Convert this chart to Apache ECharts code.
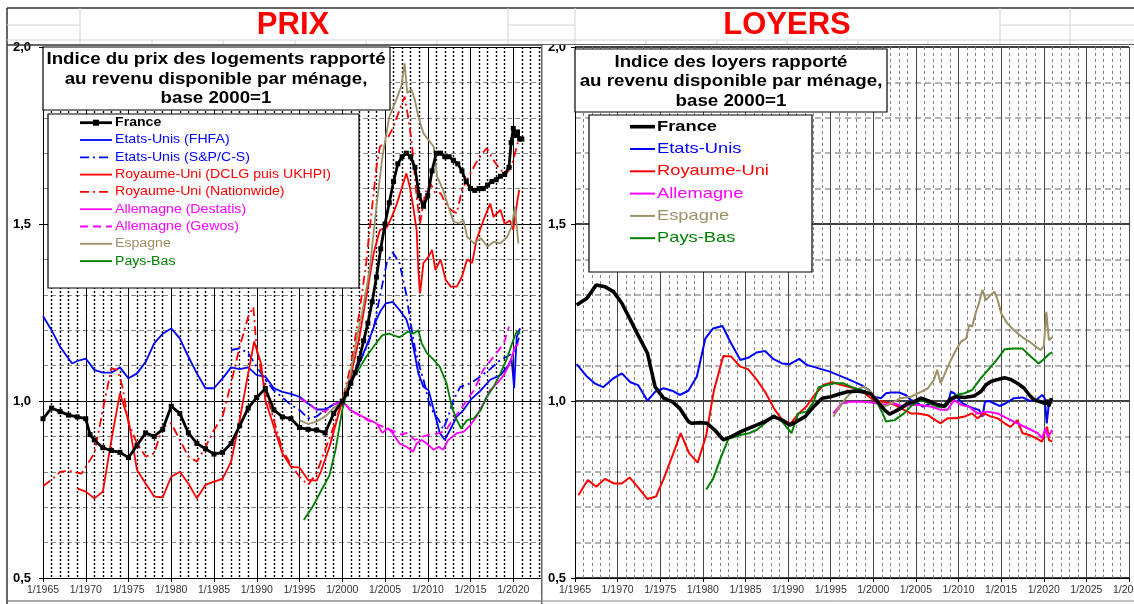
<!DOCTYPE html>
<html>
<head>
<meta charset="utf-8">
<title>Prix et loyers rapportés au revenu disponible par ménage</title>
<script src="https://cdn.jsdelivr.net/npm/echarts/dist/echarts.min.js"></script>
<style>
  html, body { margin: 0; padding: 0; background: #fff; }
  #page { position: relative; width: 1134px; height: 604px; overflow: hidden; background: #fff; }
  #prix { position: absolute; left: 0; top: 0; width: 1134px; height: 604px; }
  #loyers { position: absolute; left: 541px; top: 45px; width: 593px; height: 559px; background: #fff; }
</style>
</head>
<body>
<div id="page">
  <div id="prix"></div>
  <div id="loyers"></div>
</div>
<script>
// ===== PRIX : indice du prix des logements rapporté au revenu disponible par ménage, base 2000=1
const prixFrance = [
  [1965,0.95],[1966,0.98],[1967,0.97],[1968,0.96],[1969,0.955],[1970,0.95],[1970.5,0.905],[1971,0.89],
  [1972,0.868],[1973,0.86],[1974,0.855],[1975,0.84],[1976,0.875],[1977,0.91],[1978,0.90],[1979,0.92],
  [1980,0.985],[1981,0.965],[1982,0.91],[1983,0.88],[1984,0.865],[1985,0.85],[1986,0.855],[1987,0.88],
  [1988,0.93],[1989,0.98],[1990,1.01],[1991,1.035],[1992,0.975],[1993,0.955],[1994,0.95],[1995,0.925],
  [1996,0.92],[1997,0.918],[1998,0.91],[1999,0.965],[2000,1.0],[2000.5,1.02],[2001,1.05],[2001.5,1.08],
  [2002,1.12],[2002.5,1.17],[2003,1.22],[2003.5,1.28],[2004,1.35],[2004.5,1.43],[2005,1.50],[2005.5,1.56],
  [2006,1.62],[2006.5,1.67],[2007,1.69],[2007.5,1.70],[2008,1.69],[2008.5,1.66],[2009,1.58],[2009.5,1.55],
  [2010,1.58],[2010.5,1.65],[2011,1.70],[2011.5,1.70],[2012,1.69],[2012.5,1.69],[2013,1.68],[2013.5,1.67],
  [2014,1.65],[2014.5,1.62],[2015,1.60],[2015.5,1.595],[2016,1.60],[2016.5,1.60],[2017,1.61],[2017.5,1.62],
  [2018,1.625],[2018.5,1.635],[2019,1.64],[2019.5,1.66],[2019.75,1.73],[2020,1.77],[2020.25,1.75],
  [2020.5,1.76],[2020.75,1.74],[2021,1.74]
];
const prixUSFHFA = [
  [1965,1.24],[1966,1.20],[1967,1.153],[1968.4,1.106],[1969,1.113],[1970,1.12],[1971,1.088],[1972,1.08],
  [1973,1.08],[1974,1.095],[1975,1.064],[1976,1.078],[1977,1.11],[1978,1.163],[1979,1.19],[1980,1.205],
  [1981,1.177],[1982,1.125],[1983,1.078],[1984,1.036],[1985,1.036],[1986,1.064],[1987,1.095],[1988,1.09],
  [1989,1.095],[1990,1.073],[1991,1.069],[1992,1.036],[1993,1.026],[1994,1.02],[1995,1.012],[1996,0.993],
  [1997,0.976],[1998,0.976],[1999,0.99],[2000,1.0],[2000.5,1.03],[2001,1.06],[2001.6,1.083],[2002.2,1.12],
  [2002.8,1.153],[2003.4,1.19],[2004,1.23],[2004.5,1.255],[2005.1,1.276],[2005.9,1.28],[2006.7,1.257],
  [2007.5,1.23],[2008,1.19],[2008.5,1.13],[2008.9,1.078],[2009.5,1.04],[2010.1,1.03],[2010.7,0.975],
  [2011.4,0.91],[2012,0.89],[2012.6,0.918],[2013.4,0.956],[2014.2,0.975],[2015,1.003],[2016.2,1.03],
  [2017.3,1.06],[2018.5,1.073],[2019.4,1.10],[2019.8,1.12],[2020.1,1.036],[2020.4,1.18],[2020.8,1.205]
];
const prixUSCaseShiller = [
  [1987,1.144],[1988,1.149],[1989,1.135],[1990,1.097],[1991,1.06],[1992,1.03],[1993,1.01],[1994,0.989],
  [1995,0.975],[1996,0.951],[1997,0.956],[1998,0.975],[1999,0.99],[2000,1.0],[2001,1.05],[2002,1.107],
  [2003,1.16],[2003.7,1.21],[2004.4,1.295],[2005.2,1.39],[2005.9,1.42],[2006.7,1.39],[2007.5,1.30],
  [2008,1.22],[2008.5,1.15],[2009,1.10],[2009.5,1.06],[2010.1,1.0],[2010.7,0.965],[2011.3,0.946],
  [2011.8,0.92],[2012.4,0.956],[2013,1.003],[2013.8,1.04],[2015,1.05],[2016.2,1.07],[2017.3,1.09],
  [2018.5,1.116],[2019.6,1.13],[2020.2,1.14],[2020.8,1.19]
];
const prixUKDclg = [
  [1969,0.753],[1970,0.744],[1971,0.725],[1972,0.744],[1973,0.89],[1974,1.022],[1975,0.946],[1976,0.805],
  [1977,0.767],[1978,0.73],[1979,0.728],[1980,0.786],[1981,0.80],[1982,0.767],[1983,0.725],[1984,0.763],
  [1985,0.772],[1986,0.78],[1987,0.829],[1988,0.946],[1989,1.078],[1989.7,1.168],[1990.5,1.106],[1991,1.003],
  [1992,0.927],[1993,0.852],[1994,0.814],[1995,0.812],[1996,0.777],[1997,0.775],[1997.5,0.80],[1998.5,0.87],
  [1999.3,0.94],[2000,1.0],[2001,1.07],[2002,1.18],[2003,1.32],[2003.7,1.42],[2004.4,1.483],[2005.2,1.49],
  [2005.8,1.52],[2006.4,1.558],[2007,1.605],[2007.5,1.643],[2007.9,1.605],[2008.3,1.548],[2008.7,1.483],
  [2008.9,1.37],[2009.1,1.304],[2009.5,1.39],[2010.1,1.408],[2010.5,1.427],[2010.9,1.37],[2011.5,1.40],
  [2012.1,1.342],[2012.7,1.323],[2013.4,1.323],[2014,1.351],[2014.6,1.40],[2015.2,1.39],[2015.7,1.455],
  [2016.5,1.51],[2017.3,1.558],[2017.7,1.52],[2018.5,1.54],[2019,1.50],[2019.6,1.51],[2020,1.483],
  [2020.5,1.568],[2020.7,1.596]
];
const prixUKNationwide = [
  [1965,0.76],[1966,0.777],[1967,0.80],[1968,0.803],[1969.5,0.795],[1971,0.852],[1972,0.975],[1973,1.092],
  [1973.7,1.088],[1974.3,1.04],[1975,0.937],[1976,0.88],[1977,0.843],[1978,0.852],[1979,0.927],[1980,0.937],
  [1981,0.89],[1982,0.843],[1983,0.829],[1984,0.87],[1985,0.918],[1986,0.956],[1987,1.05],[1988,1.153],
  [1989,1.238],[1989.6,1.266],[1990,1.144],[1991,1.031],[1992,0.946],[1993,0.862],[1994,0.82],[1995,0.786],
  [1996,0.763],[1997,0.796],[1998,0.862],[1999,0.927],[2000,1.0],[2001,1.10],[2002,1.25],[2002.8,1.39],
  [2003.5,1.55],[2004,1.66],[2004.4,1.718],[2005.2,1.737],[2006,1.775],[2006.7,1.822],[2007.3,1.86],
  [2007.7,1.803],[2008.1,1.737],[2008.7,1.577],[2009.1,1.502],[2009.7,1.587],[2010.3,1.615],[2010.9,1.587],
  [2011.5,1.587],[2012.1,1.558],[2012.7,1.54],[2013.4,1.53],[2014,1.596],[2014.8,1.634],[2015.6,1.671],
  [2016.4,1.70],[2016.9,1.714],[2017.7,1.68],[2018.5,1.652],[2019.2,1.643],[2019.8,1.662],[2020.4,1.718],
  [2020.7,1.746]
];
const prixDEDestatis = [
  [2000,1.0],[2000.9,0.975],[2001.6,0.965],[2002.4,0.956],[2003.2,0.946],[2004,0.937],[2004.7,0.91],
  [2005.3,0.923],[2005.9,0.909],[2006.7,0.88],[2007.5,0.871],[2008.3,0.857],[2008.7,0.88],[2009.3,0.89],
  [2009.9,0.88],[2010.7,0.862],[2011.3,0.871],[2011.8,0.862],[2012.4,0.89],[2013.4,0.909],[2014.2,0.913],
  [2015,0.932],[2015.7,0.956],[2016.5,0.993],[2017.3,1.031],[2018.1,1.05],[2018.9,1.073],[2019.6,1.106],
  [2020.2,1.153],[2020.6,1.163]
];
const prixDEGewos = [
  [1995,1.007],[1996,0.995],[1997,0.975],[1998,0.97],[1999,0.99],[2000,1.0],[2001,0.975],[2002,0.96],
  [2003,0.945],[2004,0.935],[2005,0.925],[2006,0.915],[2007,0.905],[2007.5,0.91],[2008.5,0.89],[2009.5,0.90],
  [2010.2,0.905],[2011.4,0.909],[2012.2,0.92],[2013,0.95],[2013.8,0.975],[2014.6,1.003],[2015.4,1.03],
  [2016.5,1.088],[2017.7,1.125],[2018.9,1.163],[2019.5,1.21]
];
const prixEspagne = [
  [1995,0.946],[1996,0.935],[1997,0.942],[1998,0.956],[1999,0.98],[2000,1.0],[2000.9,1.07],[2001.6,1.163],
  [2002.4,1.26],[2003.2,1.37],[2004,1.55],[2004.7,1.69],[2005.5,1.803],[2006.3,1.85],[2006.9,1.888],
  [2007.3,1.954],[2007.6,1.87],[2008.1,1.88],[2008.5,1.85],[2008.9,1.803],[2009.5,1.756],[2010.1,1.737],
  [2010.7,1.718],[2011.1,1.634],[2011.8,1.596],[2012.4,1.55],[2013,1.507],[2013.6,1.502],[2014.2,1.51],
  [2014.6,1.464],[2015.4,1.445],[2016.2,1.46],[2017,1.436],[2017.7,1.45],[2018.5,1.445],[2019.3,1.464],
  [2019.8,1.492],[2020.2,1.55],[2020.6,1.445]
];
const prixPaysBas = [
  [1995.5,0.664],[1996.5,0.70],[1997.5,0.745],[1998.5,0.79],[1999.2,0.86],[2000,0.975],[2000.5,1.02],
  [2000.9,1.05],[2001.9,1.088],[2002.8,1.125],[2003.8,1.158],[2004.7,1.186],[2005.5,1.19],[2006.7,1.18],
  [2007.7,1.196],[2008.3,1.19],[2008.9,1.20],[2009.3,1.163],[2009.9,1.135],[2010.7,1.116],[2011.4,1.097],
  [2012.2,1.05],[2012.8,0.984],[2013.4,0.946],[2013.9,0.923],[2014.6,0.946],[2015.4,0.951],[2016.2,0.975],
  [2016.9,1.012],[2017.7,1.04],[2018.5,1.078],[2019.2,1.116],[2020,1.172],[2020.4,1.196],[2020.8,1.19]
];

// ===== LOYERS : indice des loyers rapporté au revenu disponible par ménage, base 2000=1
const loyFrance = [
  [1965.2,1.271],[1966.4,1.29],[1967.5,1.328],[1968.5,1.323],[1969.5,1.309],[1970.5,1.276],[1971.5,1.229],
  [1972.4,1.186],[1973.5,1.135],[1974.4,1.04],[1975.4,1.008],[1976.4,0.998],[1977.3,0.979],[1978.3,0.942],
  [1978.7,0.937],[1979.7,0.939],[1980.5,0.937],[1981.4,0.918],[1982.4,0.89],[1983.4,0.90],[1984.4,0.913],
  [1985.4,0.923],[1986.3,0.932],[1987.3,0.942],[1988.3,0.956],[1989.3,0.946],[1990.2,0.932],[1991,0.942],
  [1992,0.956],[1993,0.984],[1994,1.008],[1995,1.012],[1996,1.02],[1997,1.026],[1998,1.028],[1999,1.025],
  [1999.7,1.02],[2000.5,0.998],[2001.3,0.975],[2001.9,0.963],[2002.5,0.97],[2003.2,0.979],[2004,0.993],
  [2004.8,0.998],[2005.6,1.008],[2006.5,1.0],[2007.5,0.99],[2008.3,0.985],[2009,1.005],[2009.7,1.012],
  [2010.7,1.01],[2011.8,1.014],[2012.6,1.026],[2013.2,1.045],[2013.8,1.055],[2014.6,1.061],[2015.4,1.066],
  [2016.1,1.061],[2016.9,1.05],[2017.7,1.036],[2018.3,1.017],[2018.9,1.003],[2019.6,0.998],[2020.2,0.993],
  [2020.4,1.003],[2020.6,0.985],[2020.9,1.008]
];
const loyEtatsUnis = [
  [1965.2,1.104],[1966.4,1.069],[1967.3,1.05],[1968.3,1.039],[1969.5,1.064],[1970.5,1.078],[1971.5,1.053],
  [1972.4,1.045],[1973.5,1.001],[1974.4,1.026],[1975.4,1.036],[1976.4,1.029],[1977.3,1.017],[1978.3,1.029],
  [1979.3,1.069],[1980.3,1.177],[1981.2,1.205],[1982.3,1.212],[1983.2,1.168],[1984.4,1.116],[1985.4,1.123],
  [1986.3,1.137],[1987.3,1.141],[1988.3,1.118],[1989.3,1.106],[1990.2,1.104],[1991.3,1.119],[1992.2,1.102],
  [1993.2,1.095],[1994.2,1.088],[1994.9,1.083],[1996.1,1.071],[1997.3,1.059],[1998.6,1.045],[1999.5,1.031],
  [2000.1,1.012],[2000.9,1.008],[2001.5,1.022],[2002.1,1.024],[2003,1.024],[2003.8,1.017],[2004.4,1.003],
  [2005,0.998],[2005.8,0.984],[2006.8,0.993],[2007.9,0.984],[2008.7,0.989],[2009.1,1.026],[2009.5,1.022],
  [2009.9,1.008],[2010.5,0.993],[2011.25,0.984],[2011.8,0.979],[2012.4,0.975],[2012.8,0.956],[2013.1,0.998],
  [2013.6,1.0],[2014.2,0.993],[2014.8,0.986],[2015.5,0.993],[2016.5,1.008],[2017.5,1.01],[2018.3,1.001],
  [2019.1,1.003],[2019.8,1.017],[2020.1,1.008],[2020.35,0.937],[2020.6,0.993],[2021,1.008]
];
const loyRoyaumeUni = [
  [1965.4,0.734],[1966.5,0.777],[1967.5,0.758],[1968.5,0.78],[1969.6,0.767],[1970.5,0.767],[1971.4,0.784],
  [1972.5,0.753],[1973.5,0.723],[1974.5,0.73],[1975.4,0.78],[1976.5,0.85],[1977.4,0.909],[1978.4,0.852],
  [1979.4,0.826],[1980.4,0.904],[1981.3,1.03],[1982.4,1.127],[1983.3,1.126],[1984.4,1.097],[1985.3,1.09],
  [1986.3,1.061],[1987.3,1.026],[1988.4,0.977],[1989.4,0.944],[1990.3,0.937],[1991.2,0.963],[1992.2,0.986],
  [1993.2,1.02],[1994.2,1.046],[1995.2,1.053],[1996.3,1.045],[1997.4,1.038],[1998.5,1.031],[2000,1.003],
  [2001.3,0.998],[2002.5,0.989],[2003.6,0.975],[2004.4,0.965],[2005.2,0.965],[2006.4,0.96],[2007.3,0.946],
  [2007.9,0.937],[2008.7,0.951],[2009.7,0.951],[2010.7,0.956],[2011.6,0.965],[2012.2,0.951],[2013,0.965],
  [2013.8,0.956],[2014.6,0.951],[2015.4,0.937],[2016.1,0.927],[2016.9,0.946],[2017.5,0.909],[2018.3,0.904],
  [2019.1,0.895],[2019.8,0.885],[2020.2,0.918],[2020.4,0.927],[2020.6,0.89],[2021,0.885]
];
const loyAllemagne = [
  [1995.3,0.965],[1996.3,0.993],[1997.3,0.998],[1998.3,0.998],[1999.3,0.997],[2000.5,0.993],[2001.3,0.99],
  [2002.5,0.993],[2003.6,0.984],[2004.4,0.989],[2005.6,0.989],[2006.8,0.984],[2007.9,0.975],[2008.7,0.975],
  [2009.5,1.003],[2010.3,0.989],[2011.25,0.984],[2012.2,0.965],[2013.4,0.97],[2014.6,0.965],[2015.7,0.951],
  [2016.9,0.937],[2018.1,0.923],[2019.3,0.909],[2019.8,0.895],[2020.2,0.923],[2020.5,0.899],[2021,0.918]
];
const loyEspagne = [
  [1995.3,0.956],[1996.1,0.984],[1996.9,1.012],[1997.7,1.03],[1998.9,1.04],[1999.7,1.026],[2000.5,1.003],
  [2001.3,0.984],[2002.1,0.993],[2003.2,1.008],[2004.4,1.012],[2005.6,1.026],[2006.4,1.036],[2007.1,1.059],
  [2007.5,1.088],[2007.9,1.05],[2008.5,1.083],[2009.1,1.116],[2009.7,1.144],[2010.3,1.168],[2010.9,1.177],
  [2011.25,1.215],[2011.6,1.21],[2012,1.248],[2012.4,1.276],[2012.8,1.314],[2013.2,1.285],[2013.6,1.295],
  [2014.2,1.309],[2014.6,1.285],[2015,1.248],[2015.7,1.22],[2016.5,1.20],[2017.5,1.18],[2018.3,1.168],
  [2019.1,1.153],[2019.6,1.144],[2020,1.153],[2020.3,1.252],[2020.6,1.172],[2021,1.18]
];
const loyPaysBas = [
  [1980.4,0.75],[1981.2,0.78],[1982,0.833],[1983,0.893],[1984.4,0.904],[1985.4,0.909],[1986.3,0.918],
  [1987.3,0.937],[1988.3,0.96],[1989.3,0.942],[1990.4,0.909],[1991.2,0.965],[1992.2,0.97],[1993,0.998],
  [1993.6,1.039],[1994.5,1.045],[1995.5,1.05],[1996.5,1.05],[1997.5,1.039],[1998.6,1.031],[1999.7,1.02],
  [2000.5,0.993],[2001.1,0.965],[2001.5,0.942],[2002.5,0.946],[2003.6,0.965],[2004.6,0.989],[2005.6,1.003],
  [2006.6,0.993],[2007.5,0.984],[2008.5,0.984],[2009.1,1.003],[2009.7,1.017],[2010.7,1.022],[2011.6,1.031],
  [2012.6,1.064],[2013.8,1.097],[2014.6,1.12],[2015.4,1.146],[2016.5,1.148],[2017.5,1.148],[2018.5,1.125],
  [2019.4,1.106],[2020,1.118],[2020.6,1.132],[2021,1.138]
];

// Axis ranges (years, index values)
const prixYears = { min: 1965, max: 2025, step: 5 };
const loyYears = { min: 1965, max: 2030, step: 5 };
const indexRange = { min: 0.5, max: 2.0, step: 0.5 };

// ----- styles
const FONT = '"Liberation Sans", Arial, Helvetica, sans-serif';
const COL = { fr: '#000000', us: '#0000ff', uk: '#ff0000', de: '#ff00ff', es: '#9c9066', nl: '#008000' };
const DASHDOT = [9, 4, 2, 4];
const PX_PER_YEAR = 8.55;
const PLOT_TOP = 47, PLOT_H = 531;

const prixLegend = [
  { name: 'France', data: prixFrance, color: COL.fr, width: 2.8, bold: true, marker: true, z: 6 },
  { name: 'Etats-Unis (FHFA)', data: prixUSFHFA, color: COL.us, width: 1.8 },
  { name: 'Etats-Unis (S&P/C-S)', data: prixUSCaseShiller, color: COL.us, width: 1.8, dash: DASHDOT },
  { name: 'Royaume-Uni (DCLG puis UKHPI)', data: prixUKDclg, color: COL.uk, width: 1.8 },
  { name: 'Royaume-Uni (Nationwide)', data: prixUKNationwide, color: COL.uk, width: 1.8, dash: DASHDOT },
  { name: 'Allemagne (Destatis)', data: prixDEDestatis, color: COL.de, width: 1.8 },
  { name: 'Allemagne (Gewos)', data: prixDEGewos, color: COL.de, width: 1.8, dash: [8, 5] },
  { name: 'Espagne', data: prixEspagne, color: COL.es, width: 1.8 },
  { name: 'Pays-Bas', data: prixPaysBas, color: COL.nl, width: 1.8 }
];
const loyLegend = [
  { name: 'France', data: loyFrance, color: COL.fr, width: 3.6, bold: true, z: 6 },
  { name: 'Etats-Unis', data: loyEtatsUnis, color: COL.us, width: 2 },
  { name: 'Royaume-Uni', data: loyRoyaumeUni, color: COL.uk, width: 2 },
  { name: 'Allemagne', data: loyAllemagne, color: COL.de, width: 2 },
  { name: 'Espagne', data: loyEspagne, color: COL.es, width: 2 },
  { name: 'Pays-Bas', data: loyPaysBas, color: COL.nl, width: 2 }
];

const fmtIndex = v => v.toFixed(1).replace('.', ',');

function makeSeries(list) {
  return list.map(s => ({
    type: 'line',
    name: s.name,
    data: s.data,
    z: s.z || 3,
    symbol: s.marker ? 'rect' : 'none',
    symbolSize: s.marker ? 5 : 0,
    showSymbol: !!s.marker,
    itemStyle: { color: s.color },
    lineStyle: { color: s.color, width: s.width, type: s.dash || 'solid' },
    emphasis: { disabled: true },
    silent: true
  }));
}

function xAxisDef(range, major, minor) {
  return {
    type: 'value', min: range.min, max: range.max, interval: range.step,
    axisLine: { show: true, onZero: false, lineStyle: { color: '#000', width: 1 } },
    axisTick: { show: true, length: 4, lineStyle: { color: '#000' } },
    axisLabel: { formatter: v => '1/' + v, fontSize: 10.5, color: '#333', margin: 7, fontFamily: FONT },
    splitLine: { show: true, lineStyle: major },
    minorTick: { show: false, splitNumber: 5 },
    minorSplitLine: { show: true, lineStyle: minor }
  };
}
function yAxisDef(margin, major, minor) {
  return {
    type: 'value', min: indexRange.min, max: indexRange.max, interval: indexRange.step,
    axisLine: { show: true, lineStyle: { color: '#000', width: 1 } },
    axisTick: { show: true, length: 4, lineStyle: { color: '#000' } },
    axisLabel: { formatter: fmtIndex, fontSize: 13, fontWeight: 'bold', color: '#000', margin: margin, fontFamily: FONT },
    splitLine: { show: true, lineStyle: major },
    minorTick: { show: false, splitNumber: 5 },
    minorSplitLine: { show: true, lineStyle: minor }
  };
}

// ----- helpers for drawn boxes, legends and sheet lines
function seg(x1, y1, x2, y2, stroke, w, z) {
  return { type: 'line', z: z || 50, silent: true, shape: { x1, y1, x2, y2 }, style: { stroke, lineWidth: w } };
}
function box(x, y, w, h, z) {
  return { type: 'rect', z: z || 100, silent: true, shape: { x, y, width: w, height: h },
           style: { fill: '#fff', stroke: '#000', lineWidth: 1.2 } };
}
function label(text, x, y, font, fill, align, sx, z) {
  return { type: 'text', z: z || 102, silent: true, x, y, scaleX: sx || 1,
           style: { text, font, fill, textAlign: align, textVerticalAlign: 'middle' } };
}
function legendItems(list, lx0, lx1, tx, y0, dy, fontPx, sx) {
  const els = [];
  list.forEach((s, i) => {
    const y = y0 + i * dy;
    els.push({ type: 'line', z: 101, silent: true, shape: { x1: lx0, y1: y, x2: lx1, y2: y },
               style: { stroke: s.color, lineWidth: s.width, lineDash: s.dash || null } });
    if (s.marker) {
      const cx = (lx0 + lx1) / 2;
      els.push({ type: 'rect', z: 102, silent: true, shape: { x: cx - 3, y: y - 3, width: 6, height: 6 }, style: { fill: s.color } });
    }
    els.push(label(s.name, tx, y, (s.bold ? 'bold ' : '') + fontPx + 'px ' + FONT, s.color, 'left', sx));
  });
  return els;
}

// ----- spreadsheet header, titles, frames (full page layer)
const SHEET = '#d4d4d4';
const sheetEls = [
  seg(7, 8, 1134, 8, '#333', 1.5),
  seg(7, 8, 7, 604, '#333', 1.5),
  seg(7, 25, 80, 25, SHEET, 1), seg(508, 25, 575, 25, SHEET, 1), seg(1000, 25, 1134, 25, SHEET, 1),
  seg(7, 40, 1134, 40, SHEET, 1),
  seg(80, 8, 80, 45, SHEET, 1), seg(508, 8, 508, 45, SHEET, 1), seg(575, 8, 575, 45, SHEET, 1),
  seg(1000, 8, 1000, 45, SHEET, 1), seg(1070, 8, 1070, 45, SHEET, 1)
];
[152, 223, 295, 366, 437, 646, 717, 787, 858, 928].forEach(x => sheetEls.push(seg(x, 40, x, 45, SHEET, 1)));
sheetEls.push(seg(7, 45, 1134, 45, '#333', 1.5));
sheetEls.push(seg(7, 601, 541, 601, '#555', 1));
sheetEls.push(label('PRIX', 293, 25, 'bold 31px ' + FONT, '#ff0000', 'center', 1, 60));
sheetEls.push(label('LOYERS', 787, 25, 'bold 31px ' + FONT, '#ff0000', 'center', 1, 60));

const TITLE_FONT = 'bold 16px ' + FONT;
const prixBoxes = [
  box(43, 47, 347, 63),
  label('Indice du prix des logements rapporté', 216, 60, TITLE_FONT, '#000', 'center', 1.17),
  label('au revenu disponible par ménage,', 216, 79.5, TITLE_FONT, '#000', 'center', 1.17),
  label('base 2000=1', 216, 99, TITLE_FONT, '#000', 'center', 1.17),
  box(48, 114, 311, 174)
].concat(legendItems(prixLegend, 80, 112, 115, 122.7, 17.3, 12.5, 1.13));

const prixChart = echarts.init(document.getElementById('prix'), null, { renderer: 'canvas' });
prixChart.setOption({
  animation: false,
  textStyle: { fontFamily: FONT },
  grid: { left: 43, top: PLOT_TOP, width: (prixYears.max - prixYears.min) * PX_PER_YEAR, height: PLOT_H,
          containLabel: false, outerBoundsMode: 'none' },
  xAxis: xAxisDef(prixYears,
    { color: '#000', width: 1, type: 'solid' },
    { color: '#000', width: 1.4, type: [2, 2] }),
  yAxis: yAxisDef(12,
    { color: '#000', width: 1, type: 'solid' },
    { color: '#8a8a8a', width: 1, type: [5, 3] }),
  series: makeSeries(prixLegend),
  graphic: { elements: sheetEls.concat(prixBoxes) }
});

// ----- LOYERS layer (sits over the right part of the PRIX chart)
const loyBoxes = [
  seg(0.75, 0, 0.75, 559, '#666', 1.5, 120),
  seg(0, 556, 593, 556, '#888', 1, 120),
  box(34, 4, 312, 63),
  label('Indice des loyers rapporté', 190, 18, TITLE_FONT, '#000', 'center', 1.17),
  label('au revenu disponible par ménage,', 190, 37, TITLE_FONT, '#000', 'center', 1.17),
  label('base 2000=1', 190, 57, TITLE_FONT, '#000', 'center', 1.17),
  box(48, 70, 223, 157)
].concat(legendItems(loyLegend, 89, 114, 116, 81.7, 22.3, 15, 1.22));

const loyChart = echarts.init(document.getElementById('loyers'), null, { renderer: 'canvas' });
loyChart.setOption({
  animation: false,
  textStyle: { fontFamily: FONT },
  grid: { left: 34, top: PLOT_TOP - 45, width: (loyYears.max - loyYears.min) * 8.523, height: PLOT_H,
          containLabel: false, outerBoundsMode: 'none' },
  xAxis: xAxisDef(loyYears,
    { color: '#444', width: 1, type: 'solid' },
    { color: '#808080', width: 1, type: [3, 3] }),
  yAxis: yAxisDef(9,
    { color: '#000', width: 1.5, type: 'solid' },
    { color: '#9a9a9a', width: 1.5, type: [6, 4] }),
  series: makeSeries(loyLegend),
  graphic: { elements: loyBoxes }
});
</script>
</body>
</html>
